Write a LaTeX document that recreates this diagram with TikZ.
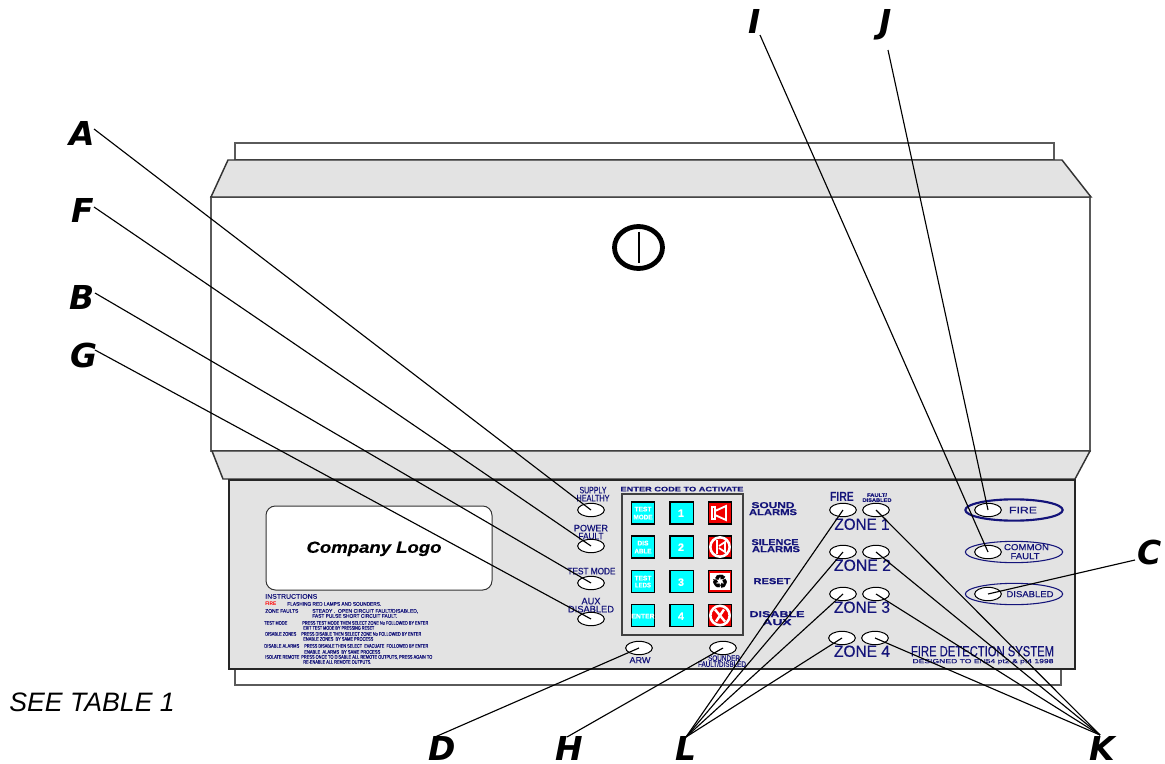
\documentclass[tikz,border=0pt]{standalone}
\usepackage{fontspec}
\usepackage{graphicx}
\setmainfont{Liberation Sans}
\newfontfamily\symfont[FakeBold=1.5]{DejaVu Sans}
\newfontfamily\labfont[FakeBold=0.35]{Liberation Sans}
\newfontfamily\letfont[BoldItalicFont={DejaVu Sans Bold Oblique}]{DejaVu Sans}
\usetikzlibrary{shapes.geometric}
\definecolor{navy}{HTML}{14147A}
\definecolor{panel}{HTML}{E3E3E3}
\definecolor{edge}{HTML}{5A5A5A}
\definecolor{redkey}{HTML}{F00000}
\definecolor{cyankey}{HTML}{00FFFF}
\newdimen\pxu \pxu=0.75pt
\newcounter{tl}
% x, y (centre of capitals), width in px, font size in pt, colour, text
\newcommand\lab[6]{\stepcounter{tl}\node[anchor=base,inner sep=0,text=#5,yshift=-0.36*#4 pt] (t\arabic{tl}) at (#1,#2)
  {\resizebox{#3\pxu}{\height}{\labfont\fontsize{#4}{#4}\selectfont #6}};}
\newcommand\ins[4]{\stepcounter{tl}\node[anchor=base west,inner sep=0,text=navy,yshift=-1.3pt] (t\arabic{tl}) at (#1,#2)
  {\resizebox{#3\pxu}{\height}{\labfont\fontsize{3.9}{3.9}\selectfont #4}};}
\tikzset{
  outl/.style={draw=edge,line width=1.4pt},
  shell/.style={draw=black!80,line width=1.1pt,fill=panel},
  ledx/.style={ellipse,draw=black,line width=0.75pt,fill=white,minimum width=20pt,minimum height=10pt,inner sep=0},
  halo/.style={ellipse,draw=navy,line width=0.8pt,fill=panel,minimum width=73pt,minimum height=16pt,inner sep=0},
  keyc/.style={draw=black,line width=1pt,fill=cyankey,minimum width=17.5pt,minimum height=16.5pt,inner sep=0},
  keyr/.style={draw=black,line width=1pt,fill=redkey,minimum width=17.5pt,minimum height=16.5pt,inner sep=0},
  leader/.style={draw=black,line width=0.85pt},
  letter/.style={inner sep=0,anchor=base,font=\letfont\fontsize{24.7}{24.7}\selectfont\bfseries\itshape,text=black},
  ico/.style={draw=white,line width=1.1pt},
}
\begin{document}
\begin{tikzpicture}[x=0.75pt,y=-0.75pt]
\useasboundingbox (0,0) rectangle (1165,764);
% cabinet
\draw[outl,fill=white] (235,143) rectangle (1054,160);
\draw[outl,fill=white] (211,197) rectangle (1090,451);
\draw[shell] (228,160) -- (1062,160) -- (1091,197) -- (211,197) -- cycle;
\draw[shell] (212,451) -- (1090,451) -- (1075,479) -- (223,479) -- cycle;
\draw[outl,fill=white] (235,669) rectangle (1061,685);
\draw[draw=black!85,line width=1.3pt,fill=panel] (229,480) rectangle (1075,669);
% lock
\node[ellipse,draw=black,line width=3.6pt,minimum width=36pt,minimum height=31.5pt,inner sep=0] (lock) at (638.5,247.5) {};
\draw[black,line width=1.5pt] (lock.center) ++(0,-16) -- ++(0,31);
% logo
\node[draw=black!80,line width=0.75pt,fill=white,rounded corners=7pt,minimum width=169.5pt,minimum height=63pt,inner sep=0] (logo) at (379,548) {};
\lab{374}{547}{135}{12}{black}{\bfseries\itshape Company Logo}
% instructions
\ins{265}{597}{52}{\fontsize{5}{5}\selectfont INSTRUCTIONS}
\stepcounter{tl}\node[anchor=base west,inner sep=0,text=red,yshift=-1.3pt] (t\arabic{tl}) at (265,604) {\resizebox{11\pxu}{\height}{\fontsize{3.9}{3.9}\selectfont\bfseries FIRE}};
\ins{287}{604}{94}{FLASHING RED LAMPS AND SOUNDERS.}
\ins{265}{611}{33}{ZONE FAULTS}
\ins{312}{611}{106}{STEADY .\ \ OPEN CIRCUIT FAULT/DISABLED,}
\ins{312}{616}{85}{FAST PULSE SHORT CIRCUIT FAULT.}
\ins{264}{623}{23}{TEST MODE}
\ins{302}{623}{126}{PRESS TEST MODE THEN SELECT ZONE No FOLLOWED BY ENTER}
\ins{303}{628}{71}{EXIT TEST MODE BY PRESSING RESET}
\ins{265}{634}{31}{DISABLE ZONES}
\ins{301}{634}{120}{PRESS DISABLE THEN SELECT ZONE No FOLLOWED BY ENTER}
\ins{303}{639}{70}{ENABLE ZONES\ \ BY SAME PROCESS}
\ins{264}{646}{35}{DISABLE ALARMS}
\ins{304}{646}{124}{PRESS DISABLE THEN SELECT\ \ EVACUATE\ \ FOLLOWED BY ENTER}
\ins{304}{652}{76}{ENABLE\ \ ALARMS\ \ BY SAME PROCESS}
\ins{265}{657}{34}{ISOLATE REMOTE}
\ins{301}{657}{131}{PRESS ONCE TO DISABLE ALL REMOTE OUTPUTS, PRESS AGAIN TO}
\ins{303}{662}{68}{RE-ENABLE ALL REMOTE OUTPUTS.}
% left indicator labels
\lab{593}{490}{27}{7}{navy}{SUPPLY}
\lab{593}{498}{33}{7}{navy}{HEALTHY}
\lab{591}{528}{34}{7}{navy}{POWER}
\lab{591}{536}{25}{7}{navy}{FAULT}
\lab{591.5}{571}{48}{7}{navy}{TEST MODE}
\lab{591}{601}{19}{7}{navy}{AUX}
\lab{591}{609}{46}{7}{navy}{DISABLED}
% keypad
\lab{682}{489}{123}{5}{navy}{\bfseries ENTER CODE TO ACTIVATE}
\node[draw=black!75,line width=1pt,fill=panel,minimum width=90.75pt,minimum height=105.75pt,inner sep=0] (pad) at (682.5,564.5) {};
\foreach \r/\y in {a/513,b/547,c/581.5,d/615.5}{
  \node[keyc] (k1\r) at (643,\y) {};
  \node[keyc] (k2\r) at (681.5,\y) {};
  \node[keyr] (k3\r) at (720,\y) {};
}
\lab{643}{509}{17}{5}{white}{\bfseries TEST}
\lab{643}{517}{19}{5}{white}{\bfseries MODE}
\lab{643}{543}{11}{5}{white}{\bfseries DIS}
\lab{643}{551}{17}{5}{white}{\bfseries ABLE}
\lab{643}{578}{17}{5}{white}{\bfseries TEST}
\lab{643}{585}{16}{5}{white}{\bfseries LEDS}
\lab{643}{616}{23}{5}{white}{\bfseries ENTER}
\lab{681}{513}{6}{8}{white}{\bfseries 1}
\lab{681}{547}{6}{8}{white}{\bfseries 2}
\lab{681}{582}{6}{8}{white}{\bfseries 3}
\lab{681}{616}{6}{8}{white}{\bfseries 4}
% icon: sounder
\draw[ico,line width=1.4pt] (k3a.center) ++(-8,-6) rectangle ++(3,12);
\draw[ico,line width=1.4pt] (k3a.center) ++(-5,-2) -- ++(11,-5) -- ++(0,14) -- ++(-11,-5) -- cycle;
% icon: silence
\node[circle,draw=white,line width=1.9pt,minimum size=14.5pt,inner sep=0] (ic2) at (k3b) {};
\draw[ico,line width=1.3pt] (k3b.center) ++(-3,-7) -- ++(0,14);
\draw[ico,line width=1.3pt] (k3b.center) ++(-1,-1) -- ++(6,-4) -- ++(0,10) -- ++(-6,-4);
% icon: recycle
\node[draw=none,fill=white,minimum width=14.5pt,minimum height=12.5pt,inner sep=0] (ic3) at (k3c) {};
\node[inner sep=0,text=black,font=\symfont\fontsize{14}{14}\selectfont] (ic3g) at (k3c) {♻};
% icon: disable
\node[circle,draw=white,line width=1.9pt,minimum size=14.5pt,inner sep=0] (ic4) at (k3d) {};
\draw[white,line width=1.8pt] (k3d.center) ++(-5,-6) -- ++(10,12);
\draw[white,line width=1.8pt] (k3d.center) ++(4,-6) -- ++(-8,12);
% action labels
\lab{773}{505}{43}{6.5}{navy}{\bfseries SOUND}
\lab{773}{512}{48}{6.5}{navy}{\bfseries ALARMS}
\lab{775}{542}{47}{6.5}{navy}{\bfseries SILENCE}
\lab{776}{549}{48}{6.5}{navy}{\bfseries ALARMS}
\lab{772}{581}{37}{6.5}{navy}{\bfseries RESET}
\lab{777}{614}{55}{6.5}{navy}{\bfseries DISABLE}
\lab{777}{622}{29}{6.5}{navy}{\bfseries AUX}
% bottom labels
\lab{640}{660}{21}{6.5}{navy}{ARW}
\lab{724}{658}{32}{6}{navy}{SOUNDER}
\lab{722}{664}{48}{6}{navy}{FAULT/DISBLED}
% zones
\stepcounter{tl}\node[anchor=base,inner sep=0,text=navy,yshift=-3.6pt] (t\arabic{tl}) at (842,497) {\resizebox{24\pxu}{\height}{\fontsize{10}{10}\selectfont\bfseries FIRE}};
\lab{877}{495}{20}{3.8}{navy}{\bfseries FAULT/}
\lab{877}{500}{29}{3.8}{navy}{\bfseries DISABLED}
\lab{862}{524}{55}{12}{navy}{ZONE 1}
\lab{862.5}{565}{57}{12}{navy}{ZONE 2}
\lab{862}{607}{56}{12}{navy}{ZONE 3}
\lab{862}{651}{56}{12}{navy}{ZONE 4}
% right hand indicator halos
\node[halo,line width=1.6pt] (hfire) at (1014,510) {};
\node[halo] (hfault) at (1014,552) {};
\node[halo] (hdis) at (1014,594) {};
\lab{1023}{510}{28}{7}{navy}{FIRE}
\lab{1026.5}{547}{45}{6.5}{navy}{COMMON}
\lab{1025}{556}{29}{6.5}{navy}{FAULT}
\lab{1030}{594}{47}{6.5}{navy}{DISABLED}
\lab{982.5}{651}{143}{11}{navy}{FIRE DETECTION SYSTEM}
\lab{983}{661}{141}{4.5}{navy}{DESIGNED TO EN54 pt2 \& pt4 1998}
% LEDs
\node[ledx] (lsup) at (591,510) {};
\node[ledx] (lpow) at (591,546) {};
\node[ledx] (ltst) at (591,583) {};
\node[ledx] (laux) at (591,619) {};
\node[ledx] (larw) at (639,648) {};
\node[ledx] (lsnd) at (723,648) {};
\node[ledx] (zf1) at (843,510) {};
\node[ledx] (zd1) at (876,510) {};
\node[ledx] (zf2) at (843,552) {};
\node[ledx] (zd2) at (876,552) {};
\node[ledx] (zf3) at (843,594) {};
\node[ledx] (zd3) at (876,594) {};
\node[ledx] (zf4) at (842,638) {};
\node[ledx] (zd4) at (875,638) {};
\node[ledx] (lfire) at (988,510) {};
\node[ledx] (lfault) at (988,552) {};
\node[ledx] (ldis) at (988,594) {};
% letters
\node[letter] (A) at (82,145) {A};
\node[letter] (F) at (83,222) {F};
\node[letter] (B) at (82,309) {B};
\node[letter] (G) at (84,367) {G};
\node[letter] (I) at (755,33) {I};
\node[letter] (J) at (886,33) {J};
\node[letter] (C) at (1150,564) {C};
\node[letter] (D) at (442,760) {D};
\node[letter] (H) at (569,760) {H};
\node[letter] (L) at (686,760) {L};
\node[letter] (K) at (1102,760) {K};
\node[inner sep=0,anchor=base west,font=\fontsize{20}{20}\selectfont\itshape] (note) at (9,711) {SEE TABLE 1};
% leader free ends
\coordinate (cA) at (94,129);
\coordinate (cF) at (94,207);
\coordinate (cB) at (95,293);
\coordinate (cG) at (95,350);
\coordinate (cI) at (760,35);
\coordinate (cJ) at (888,50);
\coordinate (cC) at (1135,560);
\coordinate (cD) at (435,737);
\coordinate (cH) at (567,737);
\coordinate (cL) at (686,737);
\coordinate (cK) at (1100,735);
% leaders
\draw[leader] (cA) -- (lsup.center);
\draw[leader] (cF) -- (lpow.center);
\draw[leader] (cB) -- (ltst.center);
\draw[leader] (cG) -- (laux.center);
\draw[leader] (cI) -- (lfault.center);
\draw[leader] (cJ) -- (lfire.center);
\draw[leader] (cC) -- (ldis.center);
\draw[leader] (cD) -- (larw.center);
\draw[leader] (cH) -- (lsnd.center);
\draw[leader] (cL) -- (zf1.center);
\draw[leader] (cL) -- (zf2.center);
\draw[leader] (cL) -- (zf3.center);
\draw[leader] (cL) -- (zf4.center);
\draw[leader] (cK) -- (zd1.center);
\draw[leader] (cK) -- (zd2.center);
\draw[leader] (cK) -- (zd3.center);
\draw[leader] (cK) -- (zd4.center);
\end{tikzpicture}
\end{document}
